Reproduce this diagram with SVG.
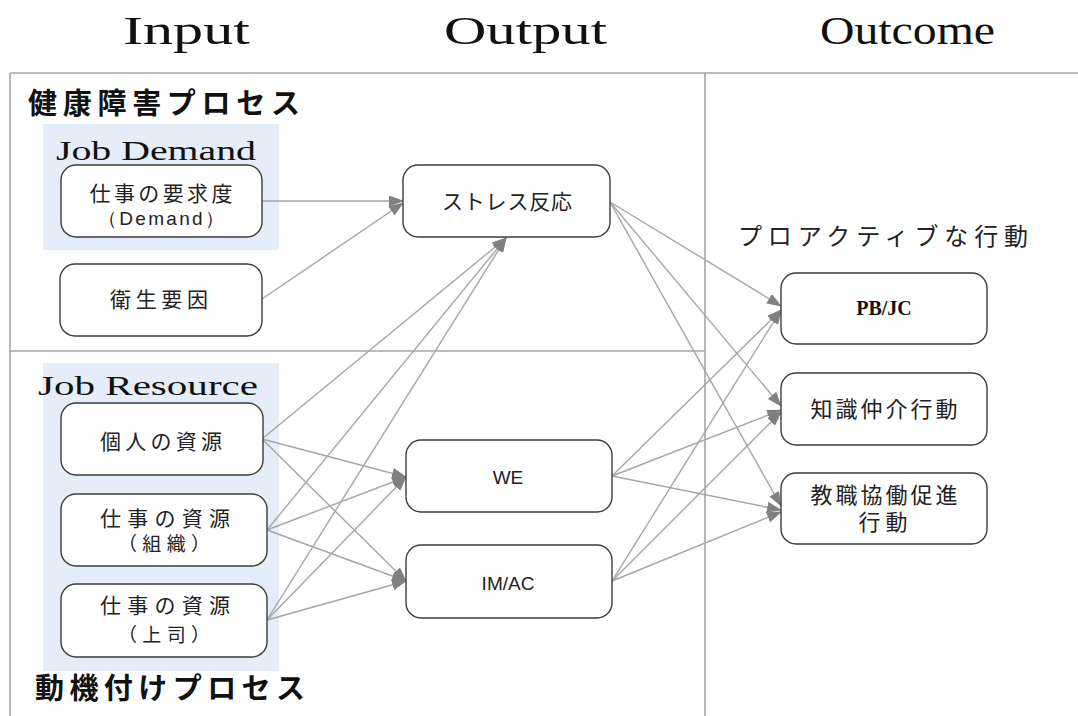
<svg xmlns="http://www.w3.org/2000/svg" width="1078" height="716" viewBox="0 0 1078 716">
<style>
.title{font-family:"Liberation Serif","DejaVu Serif",serif;font-size:40px;fill:#111}
.serif{font-family:"Liberation Serif","DejaVu Serif",serif;font-size:27px;fill:#111}
.head{font-family:"Noto Sans CJK JP",sans-serif;font-size:29px;font-weight:bold;fill:#111}
.jp{font-family:"Noto Sans CJK JP",sans-serif;font-size:21px;fill:#222}
.jps{font-size:19px}
.jpl{font-family:"Noto Sans CJK JP",sans-serif;font-size:24px;fill:#222}
.jpm{font-family:"Noto Sans CJK JP",sans-serif;font-size:22px;fill:#222}
.en{font-family:"Liberation Sans","Noto Sans",sans-serif;font-size:19px;fill:#222}
.bold{font-family:"Liberation Serif",serif;font-size:20px;font-weight:bold;fill:#111}
.node{fill:#fff;stroke:#3c3c3c;stroke-width:1.4}
.group{fill:#e4edf8}
.frame{stroke:#a6a6a6;stroke-width:1.6;fill:none}
.conn line{stroke:#a6a6a6;stroke-width:1.4;marker-end:url(#arr)}
</style>
<defs>
<marker id="arr" markerWidth="15" markerHeight="11" refX="14" refY="5.5" orient="auto" markerUnits="userSpaceOnUse">
<path d="M0,0 L15,5.5 L0,11 z" fill="#808080"/>
</marker>
</defs>
<rect width="1078" height="716" fill="#fff"/>

<g id="titles">
<text class="title" x="123" y="44" textLength="127" lengthAdjust="spacingAndGlyphs">Input</text>
<text class="title" x="444" y="44" textLength="163" lengthAdjust="spacingAndGlyphs">Output</text>
<text class="title" x="820" y="44" textLength="175" lengthAdjust="spacingAndGlyphs">Outcome</text>
</g>

<g id="frame" class="frame">
<line x1="10" y1="73" x2="1078" y2="73"/>
<line x1="10" y1="73" x2="10" y2="716"/>
<line x1="705" y1="73" x2="705" y2="716"/>
<line x1="10" y1="351" x2="705" y2="351"/>
</g>

<g id="health-process">
<text class="head" x="28" y="114" textLength="272" lengthAdjust="spacing">健康障害プロセス</text>
</g>
<g id="motivation-process">
<text class="head" x="35" y="699" textLength="270" lengthAdjust="spacing">動機付けプロセス</text>
</g>

<g id="job-demand">
<rect class="group" x="43" y="124" width="236" height="126"/>
<text class="serif" x="56" y="160" textLength="200" lengthAdjust="spacingAndGlyphs">Job Demand</text>
</g>
<g id="job-resource">
<rect class="group" x="43" y="363" width="236" height="308"/>
<text class="serif" x="38" y="395" textLength="220" lengthAdjust="spacingAndGlyphs">Job Resource</text>
</g>

<g id="connectors" class="conn">
<line x1="262" y1="201" x2="403" y2="201"/>
<line x1="262" y1="299" x2="403" y2="203"/>
<line x1="262" y1="439" x2="506" y2="238"/>
<line x1="267" y1="530" x2="506" y2="238"/>
<line x1="267" y1="620" x2="506" y2="238"/>
<line x1="262" y1="439" x2="406" y2="477"/>
<line x1="267" y1="530" x2="406" y2="477"/>
<line x1="267" y1="620" x2="406" y2="477"/>
<line x1="262" y1="439" x2="406" y2="581"/>
<line x1="267" y1="530" x2="406" y2="581"/>
<line x1="267" y1="620" x2="406" y2="581"/>
<line x1="610" y1="202" x2="781" y2="306"/>
<line x1="610" y1="202" x2="781" y2="406"/>
<line x1="610" y1="202" x2="781" y2="506"/>
<line x1="612" y1="476" x2="781" y2="310"/>
<line x1="612" y1="476" x2="781" y2="410"/>
<line x1="612" y1="476" x2="781" y2="510"/>
<line x1="612" y1="581" x2="781" y2="310"/>
<line x1="612" y1="581" x2="781" y2="412"/>
<line x1="612" y1="581" x2="781" y2="512"/>
</g>

<g id="demand">
<rect class="node" x="61" y="165" width="201" height="72" rx="15"/>
<text class="jp" text-anchor="middle"><tspan x="161" y="201" textLength="143" lengthAdjust="spacing">仕事の要求度</tspan><tspan class="en" x="161" y="225" textLength="126" lengthAdjust="spacing">（Demand）</tspan></text>
</g>
<g id="hygiene">
<rect class="node" x="60" y="264" width="202" height="72" rx="15"/>
<text class="jp" x="159" y="307" text-anchor="middle" textLength="98" lengthAdjust="spacing">衛生要因</text>
</g>
<g id="personal">
<rect class="node" x="61" y="403" width="202" height="72" rx="15"/>
<text class="jp" x="161" y="449" text-anchor="middle" textLength="122" lengthAdjust="spacing">個人の資源</text>
</g>
<g id="organization">
<rect class="node" x="61" y="494" width="206" height="72" rx="15"/>
<text class="jp" text-anchor="middle"><tspan x="165" y="526" textLength="130" lengthAdjust="spacing">仕事の資源</tspan><tspan class="jps" x="164" y="551" textLength="92" lengthAdjust="spacing">（組織）</tspan></text>
</g>
<g id="supervisor">
<rect class="node" x="61" y="584" width="206" height="73" rx="15"/>
<text class="jp" text-anchor="middle"><tspan x="165" y="613" textLength="130" lengthAdjust="spacing">仕事の資源</tspan><tspan class="jps" x="164" y="642" textLength="92" lengthAdjust="spacing">（上司）</tspan></text>
</g>

<g id="stress">
<rect class="node" x="403" y="165" width="207" height="72" rx="15"/>
<text class="jp" x="507" y="209" text-anchor="middle" textLength="130" lengthAdjust="spacing">ストレス反応</text>
</g>
<g id="we">
<rect class="node" x="406" y="440" width="206" height="72" rx="15"/>
<text class="en" x="508" y="484" text-anchor="middle">WE</text>
</g>
<g id="imac">
<rect class="node" x="406" y="545" width="206" height="73" rx="15"/>
<text class="en" x="508" y="590" text-anchor="middle">IM/AC</text>
</g>

<g id="proactive-label">
<text class="jpl" x="738" y="245" textLength="290" lengthAdjust="spacing">プロアクティブな行動</text>
</g>
<g id="pbjc">
<rect class="node" x="781" y="273" width="206" height="71" rx="15"/>
<text class="bold" x="884" y="315" text-anchor="middle">PB/JC</text>
</g>
<g id="knowledge">
<rect class="node" x="781" y="373" width="206" height="72" rx="15"/>
<text class="jpm" x="884" y="417" text-anchor="middle" textLength="147" lengthAdjust="spacing">知識仲介行動</text>
</g>
<g id="collab">
<rect class="node" x="781" y="473" width="206" height="71" rx="15"/>
<text class="jpm" text-anchor="middle"><tspan x="884" y="503" textLength="147" lengthAdjust="spacing">教職協働促進</tspan><tspan x="883" y="530" textLength="49" lengthAdjust="spacing">行動</tspan></text>
</g>
</svg>
